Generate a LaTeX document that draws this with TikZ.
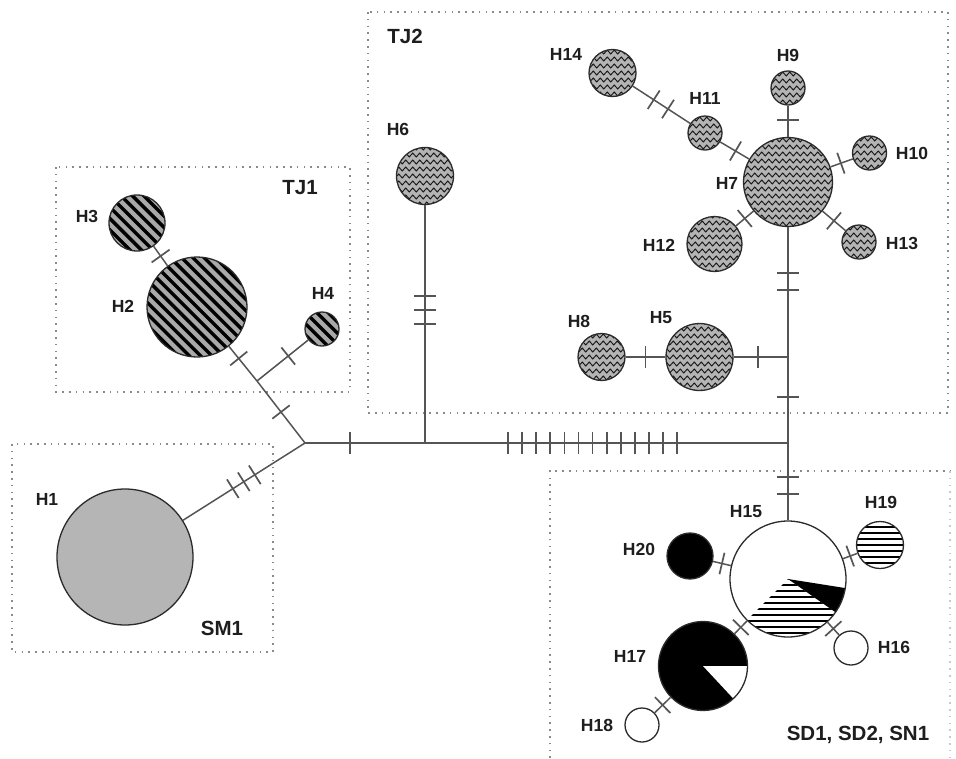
\documentclass[tikz,border=0pt]{standalone}
\usepackage{fontspec}
\setmainfont{Liberation Sans}
\usetikzlibrary{decorations.pathmorphing,decorations.markings,calc}
\definecolor{lineC}{HTML}{555555}
\definecolor{circC}{HTML}{2B2B2B}
\definecolor{greyA}{HTML}{B5B5B5}
\definecolor{stripeG}{HTML}{A9A9A9}
\definecolor{waveG}{HTML}{B4B4B4}
\definecolor{dotC}{HTML}{8A8A8A}
\definecolor{textC}{HTML}{1E1E1E}
\tikzset{
  hap/.style={circle, draw=circC, line width=1.3pt, inner sep=0pt, minimum size=#1},
  link/.style={draw=lineC, line width=1.5pt},
  tickmk/.style={postaction={decorate, decoration={markings, mark=at position #1 with {\draw[lineC, line width=1.7pt] (0pt,-11pt) -- (0pt,11pt);}}}},
  tickrun/.style={postaction={decorate, decoration={markings, mark=between positions 83pt and 254pt step 14.1pt with {\draw[lineC, line width=1.7pt] (0pt,-11pt) -- (0pt,11pt);}}}},
  lbl/.style={text=textC, font=\fontsize{17.5}{20}\selectfont\bfseries, inner sep=0pt, text depth=0pt},
  grp/.style={text=textC, font=\fontsize{20.5}{24}\selectfont\bfseries, inner sep=0pt, text depth=0pt},
  region/.style={draw=dotC, line width=1.6pt, dash pattern=on 1.6pt off 5.2pt},
  solidgrey/.style={fill=greyA},
  diagfill/.style={fill=stripeG, path picture={\begin{scope}[shift={(path picture bounding box.center)}]\foreach \k in {-9,...,9}{\draw[black, line width=3.4pt] (\k*5.657pt-56.57pt, \k*5.657pt+56.57pt) -- (\k*5.657pt+56.57pt, \k*5.657pt-56.57pt);}\end{scope}}},
  wavefill/.style={fill=waveG, path picture={\begin{scope}[shift={(path picture bounding box.center)}]\foreach \k in {-7,...,7}{\draw[black!90, line width=0.95pt, decorate, decoration={zigzag, segment length=7pt, amplitude=2pt}] (-63pt,\k*7pt) -- (63pt,\k*7pt);}\end{scope}}},
  hstripefill/.style={fill=white, path picture={\begin{scope}[shift={(path picture bounding box.center)}]\foreach \k in {-6,...,6}{\draw[black, line width=2.6pt] (-40pt,\k*6pt) -- (40pt,\k*6pt);}\end{scope}}},
}
\begin{document}
\begin{tikzpicture}[x=1pt,y=-1pt]
\useasboundingbox[fill=white] (0,0) rectangle (956,758);

% regions
\draw[region] (56,167) rectangle (350,392);
\draw[region] (12,444) rectangle (273,652);
\draw[region] (368,12) rectangle (948,413);
\draw[region] (550,758) -- (550,471) -- (950,471);
\draw[region, draw=dotC!45] (950,471) -- (950,758);

% junctions
\coordinate (J1) at (305,443);
\coordinate (J2) at (257,381);
\coordinate (J5) at (425,443);
\coordinate (J4) at (788,443);
\coordinate (J3) at (788,357);

% haplotypes
\node[hap=136pt, solidgrey] (H1) at (125,557) {};
\node[hap=100pt, diagfill] (H2) at (197,307) {};
\node[hap=56pt, diagfill] (H3) at (137,223) {};
\node[hap=34pt, diagfill] (H4) at (322,329) {};
\node[hap=67pt, wavefill] (H5) at (699.5,357) {};
\node[hap=57pt, wavefill] (H6) at (425,176) {};
\node[hap=89pt, wavefill] (H7) at (788,182) {};
\node[hap=47pt, wavefill] (H8) at (601.5,357) {};
\node[hap=34pt, wavefill] (H9) at (788,88) {};
\node[hap=34pt, wavefill] (H10) at (869.5,153) {};
\node[hap=34pt, wavefill] (H11) at (705,133) {};
\node[hap=55pt, wavefill] (H12) at (714.5,244) {};
\node[hap=34pt, wavefill] (H13) at (859,242) {};
\node[hap=47pt, wavefill] (H14) at (612.5,73) {};
\node[hap=116pt, fill=white, path picture={
  \begin{scope}
    \clip (path picture bounding box.center) -- ++(225:80pt) arc[start angle=225, end angle=325, radius=80pt] -- cycle;
    \begin{scope}[shift={(path picture bounding box.center)}]
      \foreach \k in {-10,...,10}{\draw[black, line width=2.7pt] (-70pt,\k*6pt) -- (70pt,\k*6pt);}
    \end{scope}
  \end{scope}
  \fill[black] (path picture bounding box.center) -- ++(325:80pt) arc[start angle=325, end angle=351, radius=80pt] -- cycle;
}] (H15) at (788,579) {};
\node[hap=34pt, fill=white] (H16) at (851,648) {};
\node[hap=89pt, fill=black, path picture={
  \fill[white] (path picture bounding box.center) -- ++(-47:80pt) arc[start angle=-47, end angle=0, radius=80pt] -- cycle;
}] (H17) at (703,666) {};
\node[hap=34pt, fill=white] (H18) at (642,725) {};
\node[hap=47pt, hstripefill] (H19) at (880,545) {};
\node[hap=46pt, fill=black] (H20) at (690,556) {};

% connectors
\draw[link, tickmk=59pt, tickmk=72pt, tickmk=85pt] (H1) -- (J1);
\draw[link, tickmk=0.5] (J1) -- (J2);
\draw[link, tickmk=29pt] (J2) -- (H2);
\draw[link, tickmk=40pt] (J2) -- (H4);
\draw[link, tickmk=0.5] (H3) -- (H2);
\draw[link, tickmk=45pt] (J1) -- (J5);
\draw[link, tickrun] (J5) -- (J4);
\draw[link, tickmk=90.5pt, tickmk=104.5pt, tickmk=118.5pt] (H6) -- (J5);
\draw[link, tickmk=46pt] (J4) -- (J3);
\draw[link, tickmk=45.5pt, tickmk=62.5pt] (H7) -- (J3);
\draw[link, tickmk=30pt] (J3) -- (H5);
\draw[link, tickmk=0.5] (H5) -- (H8);
\draw[link, tickmk=34pt, tickmk=51pt] (J4) -- (H15);
\draw[link, tickmk=0.5] (H15) -- (H20);
\draw[link, tickmk=0.5] (H15) -- (H19);
\draw[link, tickmk=0.5] (H15) -- (H16);
\draw[link, tickmk=0.5] (H15) -- (H17);
\draw[link, tickmk=0.5] (H17) -- (H18);
\draw[link, tickmk=14pt] (H9) -- (H7);
\draw[link, tickmk=0.53] (H11) -- (H7);
\draw[link, tickmk=25pt, tickmk=42pt] (H14) -- (H11);
\draw[link, tickmk=11pt] (H7) -- (H10);
\draw[link, tickmk=0.5] (H7) -- (H12);
\draw[link, tickmk=15pt] (H7) -- (H13);

% labels
\node[grp] (gSM1) at (222,628) {SM1};
\node[grp] (gTJ1) at (300,187) {TJ1};
\node[grp] (gTJ2) at (405,36) {TJ2};
\node[grp] (gSD) at (858,733) {SD1, SD2, SN1};
\node[lbl] (lH1) at (47,499) {H1};
\node[lbl] (lH2) at (123,306) {H2};
\node[lbl] (lH3) at (87,216) {H3};
\node[lbl] (lH4) at (323,293) {H4};
\node[lbl] (lH5) at (661,317) {H5};
\node[lbl] (lH6) at (398,129) {H6};
\node[lbl] (lH7) at (727,183) {H7};
\node[lbl] (lH8) at (579,321) {H8};
\node[lbl] (lH9) at (788,55) {H9};
\node[lbl] (lH10) at (912,153) {H10};
\node[lbl] (lH11) at (705,98) {H11};
\node[lbl] (lH12) at (659,245) {H12};
\node[lbl] (lH13) at (902,243) {H13};
\node[lbl] (lH14) at (566,54) {H14};
\node[lbl] (lH15) at (746,511) {H15};
\node[lbl] (lH16) at (894,647) {H16};
\node[lbl] (lH17) at (630,656) {H17};
\node[lbl] (lH18) at (597,725) {H18};
\node[lbl] (lH19) at (881,502) {H19};
\node[lbl] (lH20) at (639,549) {H20};
\end{tikzpicture}
\end{document}
